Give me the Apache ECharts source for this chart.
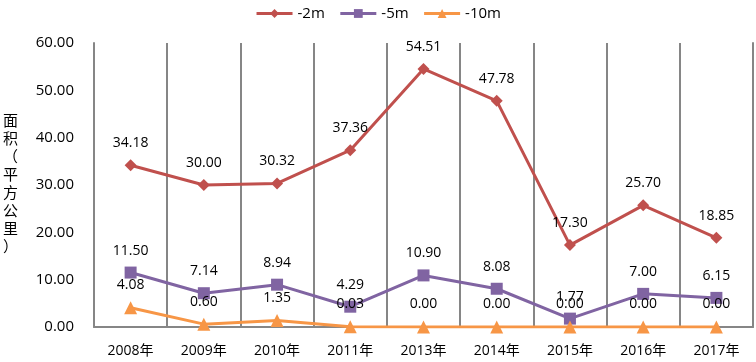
<!DOCTYPE html>
<html>
<head>
<meta charset="utf-8">
<script src="https://cdn.jsdelivr.net/npm/echarts@6/dist/echarts.min.js"></script>
<style>
  html, body { margin: 0; padding: 0; background: #fff; }
  #main { width: 756px; height: 362px; }
</style>
</head>
<body>
<div id="main"></div>
<script>
var years = ['2008年', '2009年', '2010年', '2011年', '2013年', '2014年', '2015年', '2016年', '2017年'];
var depth2m = [34.18, 30.00, 30.32, 37.36, 54.51, 47.78, 17.30, 25.70, 18.85];
var depth5m = [11.50, 7.14, 8.94, 4.29, 10.90, 8.08, 1.77, 7.00, 6.15];
var depth10m = [4.08, 0.60, 1.35, 0.03, 0.00, 0.00, 0.00, 0.00, 0.00];
var yTicks = [0, 10, 20, 30, 40, 50, 60];

var myChart = echarts.init(document.getElementById('main'));
var font = "'Open Sans', 'Noto Sans CJK SC', sans-serif";
var gridGray = '#868686';

function lineSeries(name, data, color, symbol, size) {
  return {
    name: name,
    type: 'line',
    data: data,
    symbol: symbol,
    symbolSize: size,
    z: name === '-10m' ? 4 : 3,
    lineStyle: { color: color, width: 3 },
    itemStyle: { color: color },
    label: {
      show: true,
      position: 'top',
      distance: 9,
      color: '#000',
      fontSize: 14,
      fontFamily: font,
      formatter: function (p) { return p.value.toFixed(2); }
    }
  };
}

var option = {
  animation: false,
  textStyle: { fontFamily: font },
  legend: {
    top: 1,
    left: 'center',
    itemWidth: 36,
    itemHeight: 11,
    itemGap: 14,
    lineStyle: { width: 3 },
    textStyle: { fontSize: 15, color: '#000', fontFamily: font },
    data: ['-2m', '-5m', '-10m']
  },
  grid: { left: 94, right: 3, top: 43, bottom: 35 },
  xAxis: {
    type: 'category',
    data: years,
    boundaryGap: true,
    axisLine: { lineStyle: { color: gridGray, width: 2 } },
    axisTick: { show: false },
    axisLabel: { color: '#000', fontSize: 14, margin: 17, fontFamily: font },
    splitLine: { show: true, interval: 0, lineStyle: { color: gridGray, width: 2 } }
  },
  yAxis: [{
    type: 'value',
    min: yTicks[0],
    max: yTicks[yTicks.length - 1],
    interval: 10,
    name: '面\n积\n（\n平\n方\n公\n里\n）',
    nameLocation: 'middle',
    nameRotate: 0,
    nameGap: 76,
    nameTextStyle: { fontSize: 15, color: '#000', lineHeight: 18, fontFamily: font },
    axisLine: { show: true, lineStyle: { color: gridGray, width: 2 } },
    axisTick: { show: false },
    splitLine: { show: false },
    axisLabel: {
      color: '#000', fontSize: 15, margin: 20, fontFamily: font,
      formatter: function (v) { return v.toFixed(2); }
    }
  }, {
    // right border of the plot
    type: 'value',
    position: 'right',
    min: yTicks[0],
    max: yTicks[yTicks.length - 1],
    interval: 10,
    axisLine: { show: true, lineStyle: { color: gridGray, width: 2 } },
    axisTick: { show: false },
    axisLabel: { show: false },
    splitLine: { show: false }
  }],
  series: [
    lineSeries('-2m', depth2m, '#C0504D', 'diamond', 12),
    lineSeries('-5m', depth5m, '#8064A2', 'rect', 12),
    lineSeries('-10m', depth10m, '#F79646', 'triangle', 13)
  ]
};

myChart.setOption(option);
</script>
</body>
</html>
